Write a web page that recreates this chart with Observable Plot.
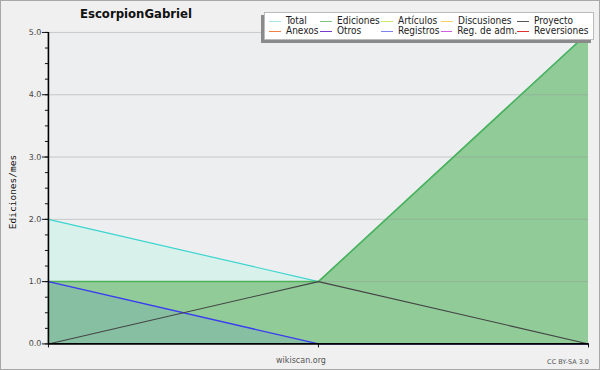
<!DOCTYPE html>
<html>
<head>
<meta charset="utf-8">
<script src="https://cdn.jsdelivr.net/npm/d3@7"></script>
<script src="https://cdn.jsdelivr.net/npm/@observablehq/plot@0.6"></script>
<style>
  html, body { margin: 0; padding: 0; background: #fff; }
  #wrap { position: relative; width: 600px; height: 370px; box-sizing: border-box;
          border: 1px solid #a8a8a8; background: #f0f0f0; overflow: hidden; }
  #chart { position: absolute; left: -1px; top: -1px; }
  .title { position: absolute; left: 35px; width: 200px; top: 5px; text-align: center;
           font: bold 13px "DejaVu Sans Condensed", "DejaVu Sans", sans-serif; color: #111; }
  .ylab { position: absolute; left: 11px; top: 191px; transform: translate(-50%, -50%) rotate(-90deg);
          font: 9.5px "DejaVu Sans Mono", monospace; color: #111; white-space: nowrap; }
  .src { position: absolute; left: 250px; width: 100px; top: 355px; text-align: center;
         font: 8px "DejaVu Sans", sans-serif; color: #555; }
  .cc { position: absolute; right: 10px; top: 357px; font: 6.5px "DejaVu Sans", sans-serif; color: #555; }
  .legend { position: absolute; left: 263px; top: 11px; width: 330px; height: 28px; box-sizing: border-box;
            background: #fff; border: 1px solid #bbb; box-shadow: -3px 3px 0 #8a8a8a;
            display: grid; grid-template-columns: 51px 61px 60px 76px 72px; grid-template-rows: 10px 10px;
            padding: 3px 0 0 4px; font: 10px "DejaVu Sans Condensed", "DejaVu Sans", sans-serif; color: #222; }
  .item { display: flex; align-items: center; white-space: nowrap; line-height: 10px; }
  .sw { display: inline-block; width: 12px; height: 0; border-top: 1.3px solid; margin-right: 5px; }
</style>
</head>
<body>
<div id="wrap">
  <div id="chart"></div>
  <div class="title" id="title"></div>
  <div class="ylab" id="ylab"></div>
  <div class="src" id="src"></div>
  <div class="cc" id="cc"></div>
  <div class="legend" id="legend"></div>
</div>
<script>
const titleText = "EscorpionGabriel";
const yLabel = "Ediciones/mes";
const sourceText = "wikiscan.org";
const licenseText = "CC BY-SA 3.0";

const months = [1, 2, 3];
const total = [2, 1, 5];
const ediciones = [1, 1, 5];
const registros = [1, 0, 0];
const proyecto = [0, 1, 0];

const yMajorTicks = [0, 1, 2, 3, 4, 5];
const yMinorTicks = d3.range(0, 5.001, 0.25);

const legendNames = ["Total", "Ediciones", "Artículos", "Discusiones", "Proyecto",
                     "Anexos", "Otros", "Registros", "Reg. de adm.", "Reversiones"];
const legendColors = ["#a8e4e0", "#7cc482", "#c8e86a", "#f4d060", "#555555",
                      "#f08040", "#7a3cc8", "#8080f0", "#d060e0", "#e03030"];

const rows = months.map((m, i) => ({
  m, total: total[i], ediciones: ediciones[i], registros: registros[i], proyecto: proyecto[i]
}));

const chart = Plot.plot({
  width: 600, height: 370,
  marginLeft: 48, marginRight: 11, marginTop: 32, marginBottom: 26,
  x: { domain: [1, 3] },
  y: { domain: [0, 5] },
  style: { background: "transparent", fontFamily: "DejaVu Sans", overflow: "visible" },
  marks: [
    Plot.frame({ fill: "#edeef0", stroke: null }),
    Plot.areaY(rows, { x: "m", y: "total", fill: "#d8f1ea" }),
    Plot.areaY(rows, { x: "m", y: "ediciones", fill: "#90cb98" }),
    Plot.areaY(rows, { x: "m", y: "registros", fill: "#86bfa2" }),
    Plot.gridY(yMajorTicks.filter(d => d > 0), { stroke: "#999", strokeOpacity: 0.45 }),
    Plot.lineY(rows, { x: "m", y: "total", stroke: "#3cd4d0", strokeWidth: 1.2 }),
    Plot.lineY(rows, { x: "m", y: "ediciones", stroke: "#4fb057", strokeWidth: 1.5 }),
    Plot.lineY(rows, { x: "m", y: "registros", stroke: "#3a3af2", strokeWidth: 1.3 }),
    Plot.lineY(rows, { x: "m", y: "proyecto", stroke: "#444", strokeWidth: 1.1 }),
    Plot.axisY(yMinorTicks, { tickSize: 3, tickFormat: () => "", label: null, stroke: "#111" }),
    Plot.axisY(yMajorTicks, { tickSize: 6, tickPadding: 1, tickFormat: d3.format(".1f"),
                              label: null, fontSize: 8, fill: "#444", stroke: "#111" }),
    Plot.axisX(months, { tickSize: 4, tickFormat: () => "", label: null, stroke: "#111" }),
    Plot.ruleX([1], { stroke: "#000", strokeWidth: 1.6 }),
    Plot.ruleY([0], { stroke: "#000", strokeWidth: 1.6 })
  ]
});
document.getElementById("chart").appendChild(chart);

document.getElementById("title").textContent = titleText;
document.getElementById("ylab").textContent = yLabel;
document.getElementById("src").textContent = sourceText;
document.getElementById("cc").textContent = licenseText;

const legend = document.getElementById("legend");
legendNames.forEach((name, i) => {
  const item = document.createElement("div");
  item.className = "item";
  const sw = document.createElement("span");
  sw.className = "sw";
  sw.style.borderTopColor = legendColors[i];
  item.appendChild(sw);
  item.appendChild(document.createTextNode(name));
  legend.appendChild(item);
});
</script>
</body>
</html>
